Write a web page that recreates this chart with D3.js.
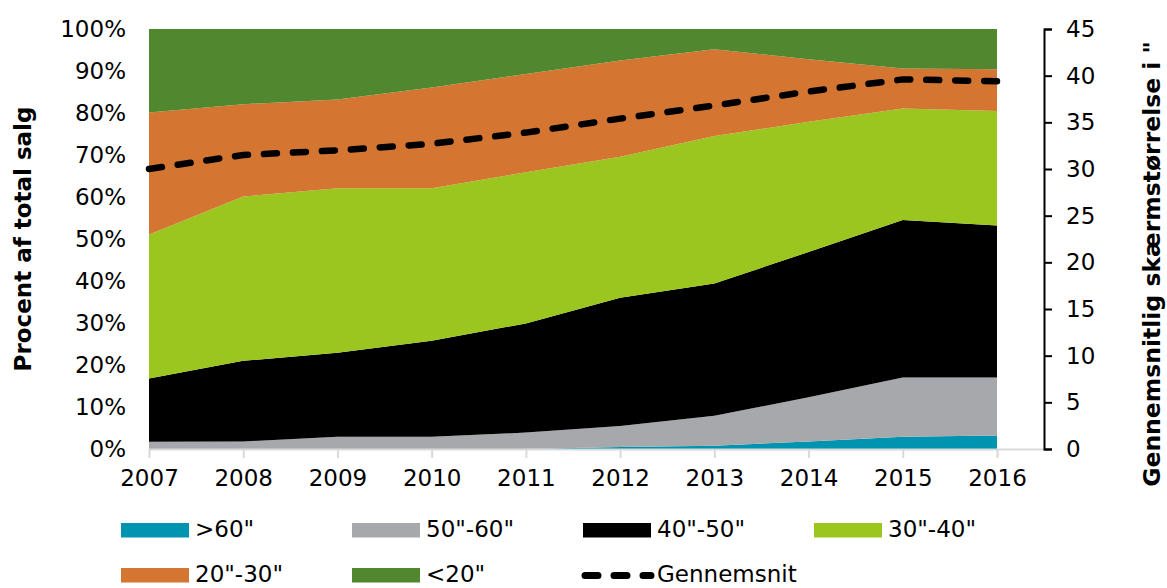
<!DOCTYPE html>
<html>
<head>
<meta charset="utf-8">
<script src="https://cdn.jsdelivr.net/npm/d3@7"></script>
<style>
  html, body { margin: 0; padding: 0; background: #fff; }
  svg { display: block; font-family: "DejaVu Sans", Verdana, sans-serif; }
</style>
</head>
<body>
<svg id="chart" width="1167" height="588"></svg>
<script>
// TV sales share by screen size (percent of total), plus average screen size in inches
const years = [2007, 2008, 2009, 2010, 2011, 2012, 2013, 2014, 2015, 2016];
const seriesNames = ['>60"', '50"-60"', '40"-50"', '30"-40"', '20"-30"', '<20"'];
const over60   = [0, 0, 0, 0, 0, 0.5, 0.8, 1.8, 2.9, 3.2];
const s50to60  = [1.7, 1.8, 2.9, 2.9, 3.9, 5.0, 7.1, 10.5, 14.1, 13.8];
const s40to50  = [15.1, 19.2, 20.0, 22.9, 26.0, 30.5, 31.5, 34.6, 37.5, 36.2];
const s30to40  = [34.3, 39.1, 39.2, 36.3, 36.0, 33.6, 35.1, 31.0, 26.6, 27.3];
const s20to30  = [29.0, 22.0, 21.1, 24.0, 23.4, 22.9, 20.7, 14.9, 9.5, 9.9];
const under20  = [19.9, 17.9, 16.8, 13.9, 10.7, 7.5, 4.8, 7.2, 9.4, 9.6];
const averageSize = [30.0, 31.5, 32.0, 32.7, 33.9, 35.4, 36.8, 38.3, 39.6, 39.4];
const leftTicks = [0, 10, 20, 30, 40, 50, 60, 70, 80, 90, 100];
const rightTicks = [0, 5, 10, 15, 20, 25, 30, 35, 40, 45];
const colors = ['#0094b0', '#a7a8ab', '#000000', '#9bc51f', '#d47531', '#51882f'];

const seriesValues = [over60, s50to60, s40to50, s30to40, s20to30, under20];
const rows = years.map((y, i) => {
  const r = { year: y };
  seriesNames.forEach((n, k) => { r[n] = seriesValues[k][i]; });
  return r;
});

const svg = d3.select('#chart');
const plot = { left: 149, right: 997, top: 29, bottom: 449 };

const x = d3.scaleLinear().domain([years[0], years[years.length - 1]]).range([plot.left, plot.right]);
const yL = d3.scaleLinear().domain([0, 100]).range([plot.bottom, plot.top]);
const yR = d3.scaleLinear().domain([0, 45]).range([plot.bottom, plot.top]);

// stacked areas
const stack = d3.stack().keys(seriesNames);
const layers = stack(rows);
const area = d3.area()
  .x(d => x(d.data.year))
  .y0(d => yL(d[0]))
  .y1(d => yL(d[1]));

svg.append('g').selectAll('path')
  .data(layers)
  .join('path')
  .attr('d', area)
  .attr('fill', (d, i) => colors[i]);

// x axis baseline and ticks
const xAxis = d3.axisBottom(x)
  .tickValues(years)
  .tickFormat(d3.format('d'))
  .tickSizeInner(9)
  .tickSizeOuter(0)
  .tickPadding(12);
const gx = svg.append('g').attr('transform', `translate(0,${plot.bottom})`).call(xAxis);
gx.select('.domain').attr('d', `M${plot.left},0.5H1044`).attr('stroke', '#d9d9d9').attr('stroke-width', 2);
gx.selectAll('.tick line').attr('stroke', '#d9d9d9').attr('stroke-width', 2);
gx.selectAll('.tick text').attr('font-size', 23).attr('fill', '#000')
  .attr('font-family', '"DejaVu Sans", Verdana, sans-serif');

// left axis (labels only)
const yAxisL = d3.axisLeft(yL)
  .tickValues(leftTicks)
  .tickFormat(d => d + '%')
  .tickSize(0)
  .tickPadding(23);
const gl = svg.append('g').attr('transform', `translate(${plot.left},0)`).call(yAxisL);
gl.select('.domain').remove();
gl.selectAll('.tick text').attr('font-size', 23).attr('fill', '#000')
  .attr('font-family', '"DejaVu Sans", Verdana, sans-serif');

// right axis
const yAxisR = d3.axisRight(yR)
  .tickValues(rightTicks)
  .tickSizeInner(8)
  .tickSizeOuter(8)
  .tickPadding(14);
const gr = svg.append('g').attr('transform', 'translate(1044,0)').call(yAxisR);
gr.select('.domain').attr('stroke', '#000').attr('stroke-width', 2);
gr.selectAll('.tick line').attr('stroke', '#000').attr('stroke-width', 2);
gr.selectAll('.tick text').attr('font-size', 23).attr('fill', '#000')
  .attr('font-family', '"DejaVu Sans", Verdana, sans-serif');

// average screen size line
const avgLine = d3.line()
  .x((d, i) => x(years[i]))
  .y(d => yR(d));
svg.append('path')
  .datum(averageSize)
  .attr('d', avgLine)
  .attr('fill', 'none')
  .attr('stroke', '#000')
  .attr('stroke-width', 6.5)
  .attr('stroke-linecap', 'round')
  .attr('stroke-dasharray', '13,16');

// axis titles
svg.append('text')
  .attr('transform', 'translate(31,239) rotate(-90)')
  .attr('text-anchor', 'middle')
  .attr('font-size', 23)
  .attr('font-weight', 'bold')
  .text('Procent af total salg');

svg.append('text')
  .attr('transform', 'translate(1160,264) rotate(-90)')
  .attr('text-anchor', 'middle')
  .attr('font-size', 23.5)
  .attr('font-weight', 'bold')
  .text('Gennemsnitlig skærmstørrelse i "');

// legend
const legendItems = [
  { name: seriesNames[0], color: colors[0], col: 0, row: 0 },
  { name: seriesNames[1], color: colors[1], col: 1, row: 0 },
  { name: seriesNames[2], color: colors[2], col: 2, row: 0 },
  { name: seriesNames[3], color: colors[3], col: 3, row: 0 },
  { name: seriesNames[4], color: colors[4], col: 0, row: 1 },
  { name: seriesNames[5], color: colors[5], col: 1, row: 1 }
];
const legend = svg.append('g');
const colX = c => 121 + c * 231;
const rowY = r => 523 + r * 45;
legendItems.forEach(it => {
  legend.append('rect')
    .attr('x', colX(it.col)).attr('y', rowY(it.row))
    .attr('width', 68).attr('height', 14.5)
    .attr('fill', it.color);
  legend.append('text')
    .attr('x', colX(it.col) + 74).attr('y', rowY(it.row) + 14)
    .attr('font-size', 23)
    .text(it.name);
});
// line legend entry
legend.append('line')
  .attr('x1', colX(2) + 2).attr('x2', colX(2) + 68)
  .attr('y1', rowY(1) + 7.5).attr('y2', rowY(1) + 7.5)
  .attr('stroke', '#000').attr('stroke-width', 7)
  .attr('stroke-linecap', 'round')
  .attr('stroke-dasharray', '13,16');
legend.append('text')
  .attr('x', colX(2) + 74).attr('y', rowY(1) + 14)
  .attr('font-size', 23)
  .text('Gennemsnit');
</script>
</body>
</html>
